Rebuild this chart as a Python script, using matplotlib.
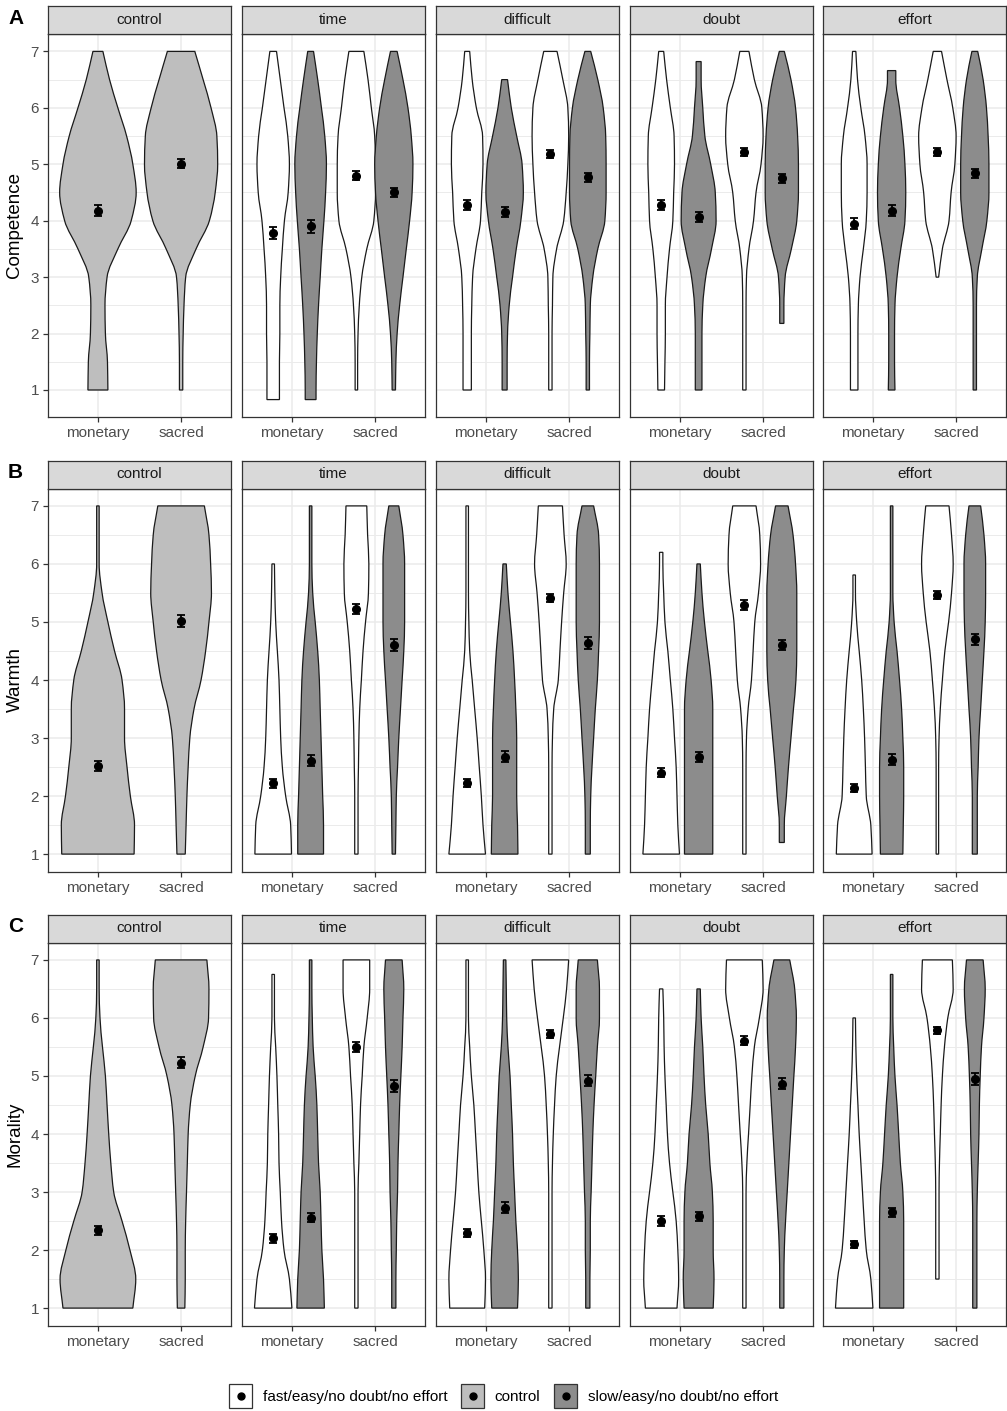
import numpy as np
import matplotlib
matplotlib.use("Agg")
import matplotlib.pyplot as plt
from matplotlib.path import Path
from matplotlib.patches import PathPatch, Patch, Rectangle
from matplotlib.lines import Line2D
from matplotlib.ticker import MultipleLocator, NullLocator

plt.rcParams['font.family'] = ['Liberation Sans', 'DejaVu Sans']

measures = ["Competence", "Warmth", "Morality"]
panel_tags = ["A", "B", "C"]
conditions = ["control", "time", "difficult", "doubt", "effort"]
targets = ["monetary", "sacred"]
group_names = ["fast/easy/no doubt/no effort", "control", "slow/easy/no doubt/no effort"]

# y levels at which violin widths were taken (1 to 7 in steps of 0.5)
levels = [1, 1.5, 2, 2.5, 3, 3.5, 4, 4.5, 5, 5.5, 6, 6.5, 7]

# violin order in every measure:
# control monetary, control sacred, then for time / difficult / doubt / effort:
# fast monetary, slow monetary, fast sacred, slow sacred
competence_width = [
    [0.24, 0.23, 0.18, 0.17, 0.22, 0.48, 0.80, 0.92, 0.84, 0.69, 0.48, 0.28, 0.12],
    [0.04, 0.04, 0.05, 0.07, 0.11, 0.36, 0.68, 0.82, 0.88, 0.86, 0.72, 0.53, 0.33],
    [0.15, 0.15, 0.16, 0.16, 0.18, 0.22, 0.27, 0.36, 0.39, 0.35, 0.26, 0.17, 0.08],
    [0.13, 0.14, 0.16, 0.19, 0.23, 0.27, 0.32, 0.36, 0.38, 0.34, 0.26, 0.17, 0.07],
    [0.03, 0.03, 0.04, 0.07, 0.13, 0.25, 0.42, 0.46, 0.46, 0.44, 0.36, 0.28, 0.18],
    [0.04, 0.05, 0.08, 0.14, 0.22, 0.30, 0.38, 0.44, 0.46, 0.42, 0.34, 0.22, 0.08],
    [0.10, 0.10, 0.10, 0.11, 0.13, 0.21, 0.32, 0.35, 0.38, 0.37, 0.22, 0.12, 0.06],
    [0.06, 0.06, 0.07, 0.11, 0.19, 0.28, 0.39, 0.45, 0.42, 0.29, 0.16, 0.07, 0.00],
    [0.04, 0.04, 0.04, 0.05, 0.06, 0.15, 0.32, 0.38, 0.42, 0.44, 0.42, 0.30, 0.16],
    [0.04, 0.04, 0.05, 0.06, 0.12, 0.24, 0.41, 0.44, 0.44, 0.43, 0.37, 0.24, 0.07],
    [0.08, 0.09, 0.10, 0.10, 0.14, 0.20, 0.28, 0.30, 0.32, 0.31, 0.22, 0.13, 0.06],
    [0.08, 0.08, 0.08, 0.10, 0.17, 0.31, 0.42, 0.40, 0.29, 0.15, 0.10, 0.06, 0.00],
    [0.04, 0.04, 0.04, 0.04, 0.05, 0.11, 0.22, 0.28, 0.40, 0.45, 0.42, 0.24, 0.11],
    [0.00, 0.00, 0.00, 0.05, 0.08, 0.23, 0.36, 0.40, 0.40, 0.38, 0.33, 0.22, 0.06],
    [0.09, 0.09, 0.09, 0.10, 0.14, 0.22, 0.29, 0.31, 0.31, 0.26, 0.16, 0.08, 0.04],
    [0.08, 0.07, 0.07, 0.08, 0.13, 0.22, 0.32, 0.34, 0.32, 0.27, 0.19, 0.10, 0.00],
    [0.00, 0.00, 0.00, 0.00, 0.03, 0.12, 0.28, 0.33, 0.42, 0.45, 0.37, 0.23, 0.10],
    [0.04, 0.04, 0.04, 0.04, 0.06, 0.17, 0.29, 0.34, 0.34, 0.32, 0.28, 0.20, 0.07],
]
competence_lo = [1, 1, 0.83, 0.83, 1, 1, 1, 1, 1, 1, 1, 1, 1, 2.18, 1, 1, 3.0, 1]
competence_hi = [7, 7, 7, 7, 7, 7, 7, 6.5, 7, 7, 7, 6.82, 7, 7, 7, 6.66, 7, 7]
competence_mean = [4.18, 5.01, 3.78, 3.90, 4.80, 4.50, 4.28, 4.15, 5.18, 4.77,
                   4.28, 4.06, 5.22, 4.75, 3.95, 4.18, 5.22, 4.84]
competence_se = [0.09, 0.08, 0.10, 0.11, 0.08, 0.08, 0.09, 0.09, 0.07, 0.08,
                 0.09, 0.09, 0.07, 0.08, 0.09, 0.09, 0.07, 0.08]

warmth_width = [
    [0.87, 0.88, 0.78, 0.70, 0.64, 0.64, 0.58, 0.40, 0.24, 0.10, 0.03, 0.03, 0.03],
    [0.10, 0.12, 0.14, 0.17, 0.21, 0.31, 0.48, 0.59, 0.67, 0.73, 0.71, 0.67, 0.56],
    [0.44, 0.42, 0.30, 0.22, 0.18, 0.16, 0.14, 0.10, 0.06, 0.04, 0.03, 0.00, 0.00],
    [0.31, 0.31, 0.29, 0.27, 0.25, 0.23, 0.21, 0.17, 0.11, 0.05, 0.03, 0.03, 0.03],
    [0.04, 0.04, 0.04, 0.05, 0.06, 0.08, 0.12, 0.16, 0.22, 0.29, 0.30, 0.27, 0.25],
    [0.04, 0.05, 0.06, 0.09, 0.12, 0.16, 0.20, 0.24, 0.26, 0.26, 0.26, 0.22, 0.12],
    [0.44, 0.38, 0.34, 0.29, 0.24, 0.18, 0.12, 0.06, 0.04, 0.03, 0.03, 0.03, 0.03],
    [0.32, 0.31, 0.29, 0.29, 0.29, 0.27, 0.24, 0.20, 0.14, 0.08, 0.04, 0.00, 0.00],
    [0.04, 0.04, 0.04, 0.04, 0.05, 0.08, 0.19, 0.23, 0.27, 0.32, 0.38, 0.33, 0.29],
    [0.06, 0.06, 0.07, 0.10, 0.14, 0.18, 0.23, 0.26, 0.28, 0.28, 0.28, 0.26, 0.14],
    [0.44, 0.40, 0.38, 0.36, 0.32, 0.28, 0.22, 0.16, 0.09, 0.06, 0.04, 0.00, 0.00],
    [0.34, 0.34, 0.34, 0.34, 0.34, 0.34, 0.30, 0.22, 0.14, 0.08, 0.04, 0.00, 0.00],
    [0.04, 0.04, 0.04, 0.04, 0.05, 0.09, 0.17, 0.21, 0.25, 0.34, 0.39, 0.37, 0.28],
    [0.00, 0.06, 0.11, 0.16, 0.22, 0.28, 0.34, 0.36, 0.36, 0.36, 0.33, 0.27, 0.15],
    [0.43, 0.40, 0.29, 0.27, 0.25, 0.22, 0.18, 0.12, 0.06, 0.03, 0.00, 0.00, 0.00],
    [0.27, 0.28, 0.29, 0.29, 0.27, 0.24, 0.19, 0.13, 0.06, 0.03, 0.03, 0.03, 0.03],
    [0.03, 0.03, 0.03, 0.03, 0.04, 0.07, 0.12, 0.18, 0.27, 0.34, 0.38, 0.34, 0.28],
    [0.06, 0.06, 0.06, 0.08, 0.10, 0.14, 0.18, 0.22, 0.25, 0.26, 0.26, 0.22, 0.14],
]
warmth_lo = [1, 1, 1, 1, 1, 1, 1, 1, 1, 1, 1, 1, 1, 1.2, 1, 1, 1, 1]
warmth_hi = [7, 7, 6, 7, 7, 7, 7, 6, 7, 7, 6.2, 6, 7, 7, 5.81, 7, 7, 7]
warmth_mean = [2.52, 5.02, 2.22, 2.61, 5.22, 4.60, 2.23, 2.68, 5.42, 4.64,
               2.40, 2.67, 5.29, 4.60, 2.14, 2.63, 5.47, 4.70]
warmth_se = [0.09, 0.10, 0.08, 0.09, 0.09, 0.10, 0.07, 0.09, 0.07, 0.10,
             0.08, 0.09, 0.08, 0.09, 0.07, 0.09, 0.07, 0.10]

morality_width = [
    [0.84, 0.91, 0.77, 0.58, 0.38, 0.31, 0.26, 0.22, 0.18, 0.11, 0.05, 0.03, 0.03],
    [0.09, 0.10, 0.10, 0.11, 0.13, 0.15, 0.17, 0.22, 0.34, 0.53, 0.66, 0.67, 0.62],
    [0.45, 0.39, 0.26, 0.20, 0.17, 0.14, 0.13, 0.11, 0.09, 0.06, 0.03, 0.03, 0.00],
    [0.33, 0.31, 0.27, 0.25, 0.23, 0.19, 0.17, 0.15, 0.11, 0.06, 0.04, 0.03, 0.03],
    [0.04, 0.04, 0.04, 0.04, 0.04, 0.06, 0.08, 0.10, 0.14, 0.18, 0.26, 0.32, 0.32],
    [0.05, 0.05, 0.06, 0.07, 0.09, 0.10, 0.12, 0.14, 0.17, 0.20, 0.22, 0.24, 0.20],
    [0.42, 0.44, 0.40, 0.34, 0.28, 0.24, 0.20, 0.16, 0.10, 0.06, 0.03, 0.03, 0.03],
    [0.31, 0.33, 0.31, 0.27, 0.24, 0.21, 0.19, 0.16, 0.13, 0.08, 0.05, 0.04, 0.03],
    [0.04, 0.04, 0.04, 0.04, 0.04, 0.05, 0.07, 0.10, 0.14, 0.22, 0.31, 0.39, 0.44],
    [0.05, 0.05, 0.06, 0.06, 0.08, 0.10, 0.12, 0.15, 0.19, 0.23, 0.28, 0.28, 0.23],
    [0.38, 0.42, 0.40, 0.36, 0.28, 0.20, 0.15, 0.12, 0.09, 0.07, 0.06, 0.04, 0.00],
    [0.35, 0.37, 0.35, 0.35, 0.33, 0.27, 0.23, 0.17, 0.13, 0.10, 0.06, 0.04, 0.00],
    [0.04, 0.04, 0.04, 0.04, 0.04, 0.06, 0.10, 0.14, 0.18, 0.24, 0.36, 0.45, 0.43],
    [0.05, 0.05, 0.06, 0.09, 0.13, 0.17, 0.21, 0.25, 0.29, 0.33, 0.35, 0.31, 0.19],
    [0.45, 0.40, 0.29, 0.24, 0.20, 0.16, 0.12, 0.09, 0.06, 0.04, 0.03, 0.00, 0.00],
    [0.29, 0.29, 0.29, 0.29, 0.27, 0.21, 0.17, 0.13, 0.08, 0.05, 0.03, 0.03, 0.00],
    [0.00, 0.04, 0.04, 0.04, 0.04, 0.05, 0.07, 0.09, 0.12, 0.17, 0.25, 0.38, 0.36],
    [0.05, 0.05, 0.05, 0.05, 0.06, 0.08, 0.10, 0.11, 0.13, 0.16, 0.22, 0.25, 0.20],
]
morality_lo = [1, 1, 1, 1, 1, 1, 1, 1, 1, 1, 1, 1, 1, 1, 1, 1, 1.5, 1]
morality_hi = [7, 7, 6.75, 7, 7, 7, 7, 7, 7, 7, 6.5, 6.5, 7, 7, 6, 6.75, 7, 7]
morality_mean = [2.34, 5.23, 2.20, 2.56, 5.50, 4.83, 2.29, 2.73, 5.72, 4.92,
                 2.50, 2.58, 5.61, 4.87, 2.10, 2.65, 5.79, 4.95]
morality_se = [0.08, 0.10, 0.07, 0.08, 0.08, 0.10, 0.07, 0.09, 0.07, 0.10,
               0.08, 0.08, 0.08, 0.09, 0.06, 0.08, 0.06, 0.10]

widths = [competence_width, warmth_width, morality_width]
los = [competence_lo, warmth_lo, morality_lo]
his = [competence_hi, warmth_hi, morality_hi]
means = [competence_mean, warmth_mean, morality_mean]
ses = [competence_se, warmth_se, morality_se]

fills = ["#FFFFFF", "#BEBEBE", "#8C8C8C"]
edge = "#1A1A1A"
dodge = 0.225

W, H = 1007, 1411
col_left = [48, 242, 436, 630, 823]
col_w = 183
row_top = [34, 488.5, 942.5]
row_h = 383
strip_h = 28


def violin_path(center, lo, hi, wlist):
    # outline points (y, half width) between lo and hi
    ys, hw = [], []
    for g, w in zip(levels, wlist):
        if lo - 1e-6 <= g <= hi + 1e-6:
            ys.append(g)
            hw.append(w / 2)
    if lo < ys[0] - 1e-6:
        ys.insert(0, lo)
        hw.insert(0, hw[0])
    if hi > ys[-1] + 1e-6:
        ys.append(hi)
        hw.append(hw[-1])
    ys = np.array(ys, float)
    hw = np.array(hw, float)
    h = np.diff(ys)
    d = np.diff(hw) / h
    # monotone cubic slopes so the outline never overshoots
    m = np.zeros_like(hw)
    m[0], m[-1] = d[0], d[-1]
    for i in range(1, len(hw) - 1):
        if d[i - 1] * d[i] > 0:
            h0, h1 = h[i - 1], h[i]
            m[i] = 3 * (h0 + h1) / ((2 * h1 + h0) / d[i - 1] + (h1 + 2 * h0) / d[i])
    verts = [(center + hw[0], ys[0])]
    codes = [Path.MOVETO]
    for i in range(len(h)):
        verts += [(center + hw[i] + m[i] * h[i] / 3, ys[i] + h[i] / 3),
                  (center + hw[i + 1] - m[i + 1] * h[i] / 3, ys[i + 1] - h[i] / 3),
                  (center + hw[i + 1], ys[i + 1])]
        codes += [Path.CURVE4] * 3
    verts.append((center - hw[-1], ys[-1]))
    codes.append(Path.LINETO)
    for i in range(len(h) - 1, -1, -1):
        verts += [(center - hw[i + 1] + m[i + 1] * h[i] / 3, ys[i + 1] - h[i] / 3),
                  (center - hw[i] - m[i] * h[i] / 3, ys[i] + h[i] / 3),
                  (center - hw[i], ys[i])]
        codes += [Path.CURVE4] * 3
    verts.append((center + hw[0], ys[0]))
    codes.append(Path.CLOSEPOLY)
    return Path(verts, codes)


class KeyHandler:
    # square key with the mean dot in its centre
    def legend_artist(self, legend, orig_handle, fontsize, handlebox):
        x0, y0 = handlebox.xdescent, handlebox.ydescent
        w, h = handlebox.width, handlebox.height
        tr = handlebox.get_transform()
        rect = Rectangle((-x0, -y0), w, h, facecolor=orig_handle.get_facecolor(),
                         edgecolor="#333333", lw=0.9, transform=tr)
        dot = Line2D([-x0 + w / 2], [-y0 + h / 2], marker="o", color="black",
                     ms=5, ls="none", transform=tr)
        handlebox.add_artist(rect)
        handlebox.add_artist(dot)
        return rect


fig = plt.figure(figsize=(W / 100, H / 100), dpi=100)

for r, measure in enumerate(measures):
    lo_all = min(los[r])
    hi_all = max(his[r])
    pad = 0.05 * (hi_all - lo_all)
    top = row_top[r]
    for c, cond in enumerate(conditions):
        x0 = col_left[c]
        ax = fig.add_axes([x0 / W, 1 - (top + row_h) / H, col_w / W, row_h / H])
        sax = fig.add_axes([x0 / W, 1 - top / H, col_w / W, strip_h / H])
        sax.set_facecolor("#D9D9D9")
        sax.set_xticks([])
        sax.set_yticks([])
        for sp in sax.spines.values():
            sp.set_color("#333333")
            sp.set_linewidth(0.9)
        sax.text(0.5, 0.5, cond, ha="center", va="center", fontsize=11,
                 color="#1A1A1A", transform=sax.transAxes)

        if c == 0:
            idx = [0, 1]
            xs = [1, 2]
            grp = [1, 1]
        else:
            base = 2 + 4 * (c - 1)
            idx = [base, base + 1, base + 2, base + 3]
            xs = [1 - dodge, 1 + dodge, 2 - dodge, 2 + dodge]
            grp = [0, 2, 0, 2]
        for k, x, g in zip(idx, xs, grp):
            p = violin_path(x, los[r][k], his[r][k], widths[r][k])
            ax.add_patch(PathPatch(p, facecolor=fills[g], edgecolor=edge,
                                   lw=0.9, zorder=2))
        ax.errorbar(xs, [means[r][k] for k in idx], yerr=[ses[r][k] for k in idx],
                    fmt="o", color="black", ms=5.5, elinewidth=1.3,
                    capsize=2.6, capthick=1.3, zorder=3)

        ax.set_xlim(0.4, 2.6)
        ax.set_ylim(lo_all - pad, hi_all + pad)
        ax.set_xticks([1, 2])
        ax.set_xticklabels(targets)
        ax.set_yticks(range(1, 8))
        ax.yaxis.set_minor_locator(MultipleLocator(0.5))
        ax.xaxis.set_minor_locator(NullLocator())
        ax.set_axisbelow(True)
        ax.grid(which="major", color="#EBEBEB", lw=1.1)
        ax.grid(which="minor", axis="y", color="#EBEBEB", lw=0.7)
        ax.tick_params(which="minor", length=0)
        ax.tick_params(which="major", labelsize=11, labelcolor="#4D4D4D",
                       color="#333333", length=3.5, width=0.9, pad=3)
        if c > 0:
            ax.tick_params(left=False, labelleft=False)
        for sp in ax.spines.values():
            sp.set_color("#333333")
            sp.set_linewidth(0.9)

    fig.text(15 / W, 1 - (top + row_h / 2) / H, measure, rotation=90,
             ha="center", va="center", fontsize=13.5)
    fig.text(8 / W, 1 - (top - 16) / H, panel_tags[r], ha="left", va="center",
             fontsize=15, fontweight="bold")

handles = [Patch(facecolor=f) for f in fills]
fig.legend(handles, group_names, loc="center", bbox_to_anchor=(0.5, 1 - 1396 / H),
           ncol=3, frameon=False, fontsize=11, handlelength=1.5, handleheight=2.1,
           handletextpad=0.7, columnspacing=0.9,
           handler_map={Patch: KeyHandler()})

fig.savefig("out.png", dpi=100)
